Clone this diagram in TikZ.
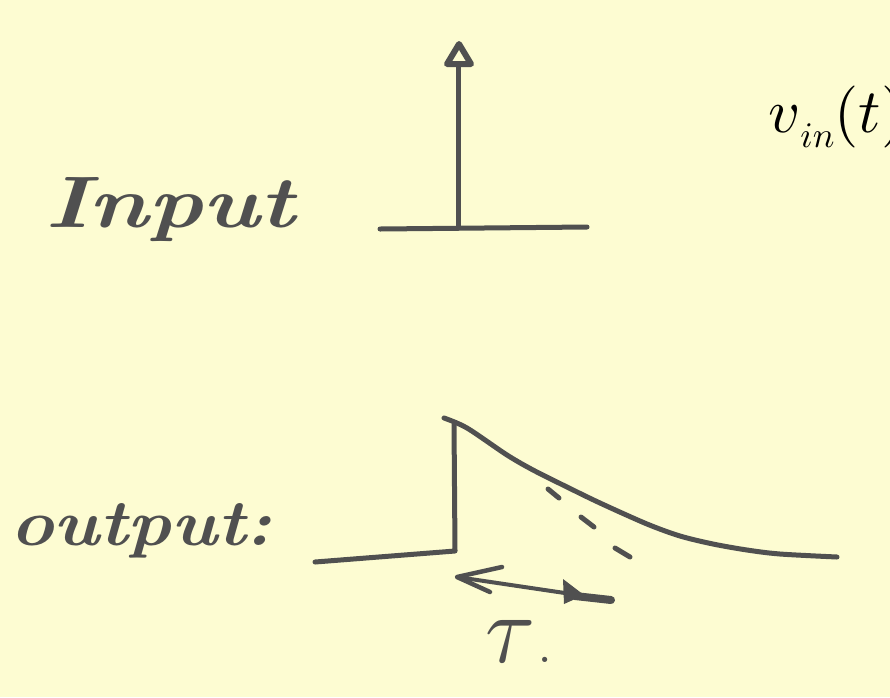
\documentclass[tikz,border=0pt]{standalone}
\usepackage{amsmath}
\usepackage{fontspec}
\usepackage{graphicx}
\definecolor{paper}{RGB}{253,252,210}
\definecolor{ink}{RGB}{80,80,80}
\tikzset{
  pen/.style={draw=ink, line width=5pt, line cap=round, line join=round},
  hand/.style={text=ink, inner sep=0pt, outer sep=0pt, anchor=base west},
}
\begin{document}
\begin{tikzpicture}[x=1pt,y=-1pt]
\fill[paper] (0,0) rectangle (890,697);
\useasboundingbox (0,0) rectangle (890,697);

% labels
\node[hand] (lin) at (45,227) {\resizebox{250pt}{50pt}{\bfseries\itshape Input}};
\node[hand] (lout) at (10,545) {\resizebox{262pt}{42pt}{\bfseries\itshape output:}};
\node[inner sep=0pt, anchor=base west, text=black] (vin) at (768,132)
  {\scalebox{6.2}{$v$}\raisebox{-15pt}{\scalebox{3.6}{$in$}}\scalebox{6.2}{$(t)$}};
\node[hand] (tau) at (485,662) {\resizebox{50pt}{42pt}{$\tau$}\hspace{4pt}\fontsize{36}{36}\selectfont\bfseries.};

% input impulse
\coordinate (ibl) at (380,229);
\coordinate (ibr) at (587,227);
\coordinate (ibase) at (458,228);
\coordinate (itop) at (458,64);
\draw[pen] (ibl) -- (ibr);
\draw[pen] (ibase) -- (itop);
\draw[pen, line width=6pt, fill=paper] (459,44) -- (447,64) -- (471,64) -- cycle;

% output response
\coordinate (obl) at (315,562);
\coordinate (ostep) at (455,551);
\coordinate (opeak) at (454,424);
\draw[pen] (obl) -- (ostep) -- (opeak);
\draw[pen] plot[smooth] coordinates {(444,418) (467,428) (507,455) (533,470) (567,487) (600,503) (647,524) (680,536) (713,544) (747,550) (780,554) (837,557)};

% dashed tangent
\draw[pen] (548,489) -- (559,498);
\draw[pen] (581,517) -- (594,527);
\draw[pen] (615,548) -- (630,557);

% tau arrow
\coordinate (al) at (457,577);
\coordinate (ar) at (612,600);
\draw[pen, line width=4pt] (al) -- (ar);
\draw[pen, line width=4.5pt] (502,567) -- (al) -- (490,592);
\fill[ink] (563,579) -- (584,595) -- (564,604) -- cycle;
\draw[pen, line width=8pt] (575,596) -- (611,600);
\end{tikzpicture}
\end{document}
